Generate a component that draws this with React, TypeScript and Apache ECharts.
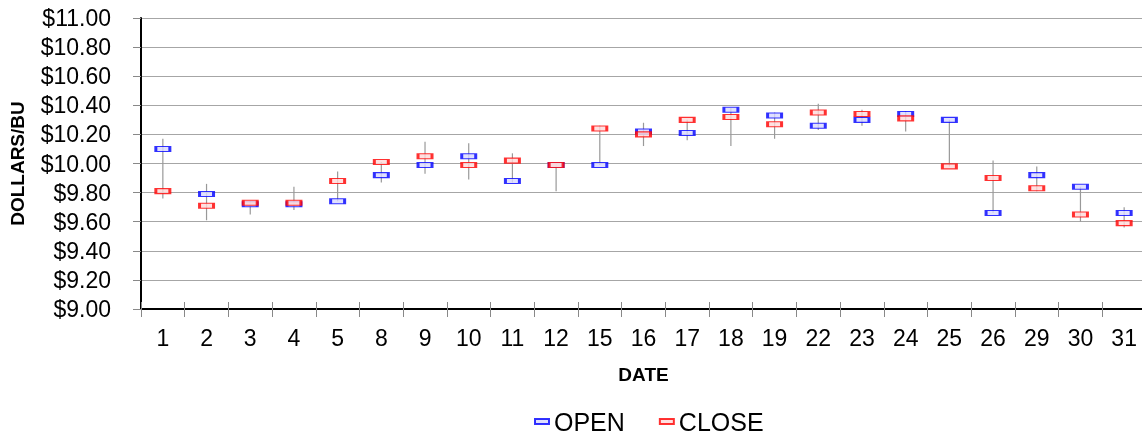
import React, { useEffect, useRef } from "react";
import * as echarts from "echarts";

const dates = ["1", "2", "3", "4", "5", "8", "9", "10", "11", "12", "15", "16", "17", "18", "19", "22", "23", "24", "25", "26", "29", "30", "31"];
const openVals = [10.1, 9.79, 9.72, 9.72, 9.74, 9.92, 9.99, 10.05, 9.88, 9.99, 9.99, 10.22, 10.21, 10.37, 10.33, 10.26, 10.3, 10.34, 10.3, 9.66, 9.92, 9.84, 9.66];
const closeVals = [9.81, 9.71, 9.73, 9.73, 9.88, 10.01, 10.05, 9.99, 10.02, 9.99, 10.24, 10.2, 10.3, 10.32, 10.27, 10.35, 10.34, 10.31, 9.98, 9.9, 9.83, 9.65, 9.59];
const highVals = [10.17, 9.86, 9.74, 9.84, 9.945, 10.01, 10.15, 10.14, 10.07, 10.0, 10.26, 10.28, 10.3, 10.38, 10.35, 10.41, 10.37, 10.36, 10.3, 10.02, 9.98, 9.84, 9.7];
const lowVals = [9.76, 9.61, 9.65, 9.68, 9.74, 9.87, 9.93, 9.89, 9.87, 9.81, 9.99, 10.12, 10.16, 10.12, 10.17, 10.23, 10.26, 10.22, 9.98, 9.66, 9.81, 9.6, 9.56];

const FONT = "'Liberation Sans', Arial, sans-serif";

export default function App() {
  const ref = useRef<HTMLDivElement>(null);
  useEffect(() => {
    if (!ref.current) return;
    const chart = echarts.init(ref.current, null, { renderer: "svg" });
    chart.setOption({
      animation: false,
      textStyle: { fontFamily: FONT },
      grid: { left: 141, width: 1005, top: 18, height: 291, containLabel: false, outerBoundsMode: "none" },
      legend: {
        data: ["OPEN", "CLOSE"],
        bottom: 1,
        left: 529,
        icon: "rect",
        itemWidth: 14,
        itemHeight: 5,
        itemGap: 34,
        textStyle: { fontSize: 25, color: "#000", fontFamily: FONT },
      },
      xAxis: [
        {
          type: "category",
          data: dates,
          boundaryGap: true,
          name: "DATE",
          nameLocation: "middle",
          nameGap: 56,
          nameTextStyle: { fontSize: 19, fontWeight: "bold", color: "#000", fontFamily: FONT },
          axisLine: { lineStyle: { color: "#000", width: 2 } },
          axisTick: { show: true, length: 8, lineStyle: { color: "#888" } },
          axisLabel: { fontSize: 23, color: "#000", margin: 17, fontFamily: FONT },
          splitLine: { show: false },
        },
        {
          type: "category",
          data: dates,
          position: "bottom",
          boundaryGap: true,
          axisLine: { show: false },
          axisTick: { show: true, inside: true, length: 7, lineStyle: { color: "#888" } },
          axisLabel: { show: false },
          splitLine: { show: false },
        },
      ],
      yAxis: {
        type: "value",
        min: 9,
        max: 11,
        interval: 0.2,
        name: "DOLLARS/BU",
        nameLocation: "middle",
        nameRotate: 90,
        nameGap: 114,
        nameTextStyle: { fontSize: 19, fontWeight: "bold", color: "#000", fontFamily: FONT },
        axisLine: { show: true, lineStyle: { color: "#000", width: 2 } },
        axisTick: { show: true, length: 8, lineStyle: { color: "#888" } },
        axisLabel: {
          fontSize: 23,
          color: "#000",
          margin: 30,
          fontFamily: FONT,
          formatter: (v: number) => "$" + v.toFixed(2),
        },
        splitLine: { show: true, lineStyle: { color: "#a6a6a6", width: 1 } },
      },
      series: [
        {
          type: "custom",
          name: "HL",
          xAxisIndex: 0,
          data: dates.map((d, i) => [i, highVals[i], lowVals[i]]),
          renderItem: (params: any, api: any) => {
            const x = api.value(0);
            const hi = api.coord([x, api.value(1)]);
            const lo = api.coord([x, api.value(2)]);
            return {
              type: "line",
              shape: { x1: hi[0], y1: hi[1], x2: lo[0], y2: lo[1] },
              style: { stroke: "#999", lineWidth: 1.2 },
            };
          },
          z: 1,
        },
        {
          type: "scatter",
          name: "OPEN",
          xAxisIndex: 0,
          data: openVals,
          symbol: "rect",
          symbolSize: [14, 5],
          itemStyle: { color: "#d8d8ff", borderColor: "#0000ff", borderWidth: 1.8 },
          z: 3,
        },
        {
          type: "scatter",
          name: "CLOSE",
          xAxisIndex: 0,
          data: closeVals,
          symbol: "rect",
          symbolSize: [14, 5],
          itemStyle: { color: "#ffd8d8", borderColor: "#ff0000", borderWidth: 1.8 },
          z: 4,
        },
      ],
    });
    return () => chart.dispose();
  }, []);
  return (
    <div
      ref={ref}
      style={{ position: "fixed", left: 0, top: 0, width: 1142, height: 440 }}
    />
  );
}
